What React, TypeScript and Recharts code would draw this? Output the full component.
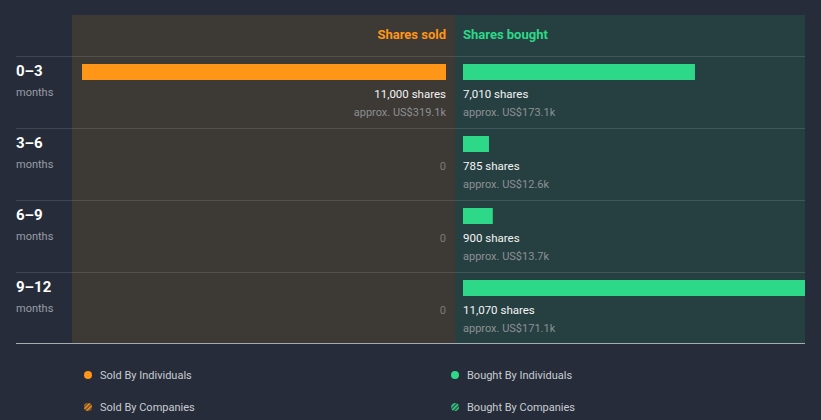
import React from 'react';
import { BarChart, Bar, XAxis, YAxis, LabelList } from 'recharts';

const periods = ['0–3', '3–6', '6–9', '9–12'];
const periodUnit = 'months';
const soldShares = [11000, 0, 0, 0];
const soldUsdK = [319.1, 0, 0, 0];
const boughtShares = [7010, 785, 900, 11070];
const boughtUsdK = [173.1, 12.6, 13.7, 171.1];
const legendItems = ['Sold By Individuals', 'Sold By Companies', 'Bought By Individuals', 'Bought By Companies'];

const SCALE_MAX = Math.max(...soldShares);

const data = periods.map((p, i) => ({
  period: p,
  sold: soldShares[i],
  soldUsd: soldUsdK[i],
  bought: boughtShares[i],
  boughtUsd: boughtUsdK[i],
}));

const ORANGE = '#ff9617';
const GREEN = '#2dd888';
const BG = '#262c39';
const SOLD_PANEL = '#3d3935';
const BOUGHT_PANEL = '#264042';
const FONT = 'Roboto, "Noto Sans", sans-serif';

const BarShape = (props: any) => {
  const { x, y, width, height, fill } = props;
  if (!width) return null;
  const left = Math.min(x, x + width);
  return <rect x={left} y={y - 20} width={Math.abs(width)} height={height} fill={fill} />;
};

const makeLabel = (side: 'sold' | 'bought') => (props: any) => {
  const vb = props.viewBox || props;
  const idx = props.index;
  const v = side === 'sold' ? soldShares[idx] : boughtShares[idx];
  const usd = side === 'sold' ? soldUsdK[idx] : boughtUsdK[idx];
  const w = vb.width || 0;
  const edgeX = side === 'sold' ? Math.max(vb.x, vb.x + w) : Math.min(vb.x, vb.x + w);
  const anchor = side === 'sold' ? 'end' : 'start';
  const y = vb.y;
  if (!v) {
    return (
      <text x={edgeX} y={y + 14} textAnchor={anchor} fontSize={11} fill="#7e7a75" fontFamily={FONT}>
        0
      </text>
    );
  }
  return (
    <g>
      <text x={edgeX} y={y + 14} textAnchor={anchor} fontSize={11.5} fontWeight={400} fill="#f4f4f4" fontFamily={FONT}>
        {v.toLocaleString('en-US')} shares
      </text>
      <text x={edgeX} y={y + 32} textAnchor={anchor} fontSize={11} fill="#8c9093" fontFamily={FONT}>
        approx. US${usd.toFixed(1)}k
      </text>
    </g>
  );
};

const RowTick = (props: any) => {
  const { y, payload } = props;
  return (
    <g>
      <text x={0} y={y - 16} fontSize={15} fontWeight={700} fill="#ffffff" fontFamily={FONT}>
        {payload.value}
      </text>
      <text x={0} y={y + 4} fontSize={11} fill="#9a9ea6" fontFamily={FONT}>
        {periodUnit}
      </text>
    </g>
  );
};

export default function App() {
  return (
    <div style={{ position: 'fixed', left: 0, top: 0, width: 821, height: 420, background: BG, overflow: 'hidden', fontFamily: FONT }}>
      <div style={{ position: 'absolute', left: 72, top: 15, width: 383, height: 329, background: SOLD_PANEL }} />
      <div style={{ position: 'absolute', left: 455, top: 15, width: 350, height: 329, background: BOUGHT_PANEL }} />
      <svg width={821} height={420} style={{ position: 'absolute', left: 0, top: 0 }}>
        {[56, 128, 200, 272].map((yy) => (
          <line key={yy} x1={16} x2={805} y1={yy + 0.5} y2={yy + 0.5} stroke="rgba(255,255,255,0.12)" strokeWidth={1} />
        ))}
      </svg>
      <div style={{ position: 'absolute', left: 16, top: 15 }}>
        <BarChart width={439} height={329} data={data} layout="vertical" margin={{ top: 41, right: 9, bottom: 0, left: 0 }}>
          <XAxis type="number" hide domain={[0, SCALE_MAX]} reversed allowDataOverflow />
          <YAxis type="category" dataKey="period" width={66} axisLine={false} tickLine={false} tick={<RowTick />} />
          <Bar dataKey="sold" fill={ORANGE} barSize={16} shape={<BarShape />} isAnimationActive={false}>
            <LabelList dataKey="sold" content={makeLabel('sold')} />
          </Bar>
        </BarChart>
      </div>
      <div style={{ position: 'absolute', left: 455, top: 15, width: 350, height: 329, overflow: 'hidden' }}>
        <BarChart width={372} height={329} data={data} layout="vertical" margin={{ top: 41, right: 0, bottom: 0, left: 8 }}>
          <XAxis type="number" hide domain={[0, SCALE_MAX]} allowDataOverflow />
          <YAxis type="category" dataKey="period" hide />
          <Bar dataKey="bought" fill={GREEN} barSize={16} shape={<BarShape />} isAnimationActive={false}>
            <LabelList dataKey="bought" content={makeLabel('bought')} />
          </Bar>
        </BarChart>
      </div>
      <svg width={821} height={420} style={{ position: 'absolute', left: 0, top: 0, pointerEvents: 'none' }}>
        <defs>
          <pattern id="hatchO" width="3" height="3" patternUnits="userSpaceOnUse" patternTransform="rotate(45)">
            <rect width="3" height="3" fill="#5a4530" />
            <rect width="1.5" height="3" fill={ORANGE} />
          </pattern>
          <pattern id="hatchG" width="3" height="3" patternUnits="userSpaceOnUse" patternTransform="rotate(45)">
            <rect width="3" height="3" fill="#2a4a44" />
            <rect width="1.5" height="3" fill={GREEN} />
          </pattern>
        </defs>
        <text x={446} y={39} textAnchor="end" fontSize={13} fontWeight={700} fill={ORANGE} fontFamily={FONT}>Shares sold</text>
        <text x={463} y={39} textAnchor="start" fontSize={13} fontWeight={700} fill={GREEN} fontFamily={FONT}>Shares bought</text>
        <line x1={16} x2={805} y1={343.5} y2={343.5} stroke="#a6abb1" strokeWidth={1} />
        <circle cx={88} cy={375} r={4} fill={ORANGE} />
        <text x={100} y={379} fontSize={11} fill="#c8ccd2" fontFamily={FONT}>{legendItems[0]}</text>
        <circle cx={88} cy={407} r={4} fill="url(#hatchO)" />
        <text x={100} y={411} fontSize={11} fill="#c8ccd2" fontFamily={FONT}>{legendItems[1]}</text>
        <circle cx={455} cy={375} r={4} fill={GREEN} />
        <text x={467} y={379} fontSize={11} fill="#c8ccd2" fontFamily={FONT}>{legendItems[2]}</text>
        <circle cx={455} cy={407} r={4} fill="url(#hatchG)" />
        <text x={467} y={411} fontSize={11} fill="#c8ccd2" fontFamily={FONT}>{legendItems[3]}</text>
      </svg>
    </div>
  );
}
